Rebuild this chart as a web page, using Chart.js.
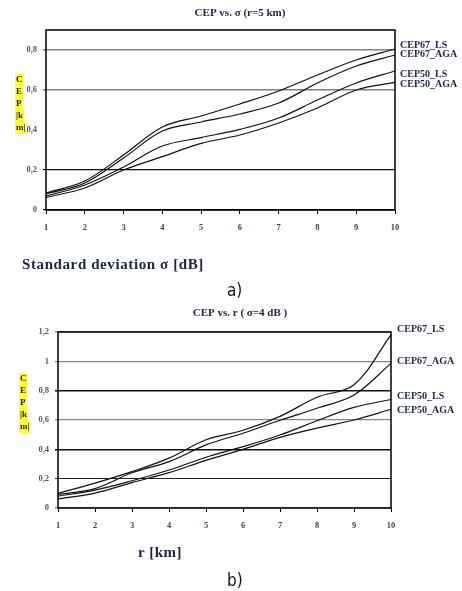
<!DOCTYPE html>
<html><head><meta charset="utf-8">
<script src="https://cdn.jsdelivr.net/npm/chart.js@4/dist/chart.umd.min.js"></script>
<style>
html,body{margin:0;padding:0;background:#fff;width:462px;height:591px;overflow:hidden;position:relative}
canvas{position:absolute;left:0}
.lbl{position:absolute;font-family:"Liberation Serif","DejaVu Serif",serif;font-weight:bold;color:#1b2642;white-space:nowrap;line-height:1}
.sub{position:absolute;font-family:"DejaVu Sans Condensed","Liberation Sans Narrow",sans-serif;font-size:17px;color:#111;line-height:1}
</style></head><body>
<canvas id="ca" width="462" height="300" style="top:0"></canvas>
<canvas id="cb" width="462" height="291" style="top:300px"></canvas>
<div class="lbl" style="left:22px;top:257px;font-size:15px;letter-spacing:0.6px">Standard deviation σ [dB]</div>
<div class="sub" style="left:227px;top:282px">a)</div>
<div class="lbl" style="left:138px;top:545px;font-size:15px;letter-spacing:0.5px">r [km]</div>
<div class="sub" style="left:227px;top:572px">b)</div>
<script>
// ---------- data ----------
const xLabels = ['1','2','3','4','5','6','7','8','9','10'];
const seriesNames = ['CEP67_LS','CEP67_AGA','CEP50_LS','CEP50_AGA'];
const yLetters = ['C','E','P','|k','m|'];

// a) CEP vs. sigma (r = 5 km)
const titleA = 'CEP vs. σ (r=5 km)';
const sigmaCep67LS  = [0.085,0.145,0.275,0.415,0.47,0.53,0.595,0.675,0.75,0.805];
const sigmaCep67AGA = [0.08,0.135,0.26,0.395,0.44,0.48,0.535,0.635,0.72,0.775];
const sigmaCep50LS  = [0.07,0.125,0.215,0.32,0.362,0.403,0.46,0.55,0.635,0.695];
const sigmaCep50AGA = [0.063,0.11,0.2,0.267,0.333,0.375,0.435,0.51,0.6,0.638];
const yTicksA = [0,0.2,0.4,0.6,0.8];

// b) CEP vs. r (sigma = 4 dB)
const titleB = 'CEP vs. r ( σ=4 dB )';
const rCep67LS  = [0.10,0.17,0.248,0.34,0.465,0.53,0.625,0.755,0.84,1.18];
const rCep67AGA = [0.092,0.132,0.24,0.316,0.43,0.51,0.598,0.68,0.77,0.986];
const rCep50LS  = [0.08,0.122,0.186,0.259,0.346,0.418,0.498,0.595,0.686,0.74];
const rCep50AGA = [0.062,0.102,0.173,0.241,0.325,0.40,0.482,0.545,0.60,0.673];
const yTicksB = [0,0.2,0.4,0.6,0.8,1,1.2];

// ---------- helpers ----------
const SERIF = '"Liberation Serif","DejaVu Serif",serif';
const fmt = v => String(Math.round(v*10)/10).replace('.', ',');

function makeSets(arrs){
  return arrs.map((d,i)=>({label:seriesNames[i],data:d,borderColor:'#111',borderWidth:1.2,
    pointRadius:0,tension:0.35,fill:false}));
}

const decor = {
  id:'decor',
  afterDraw(chart, args, o){
    const c = chart.ctx, a = chart.chartArea;
    c.save();
    // plot frame
    c.strokeStyle='#000'; c.lineWidth=1.5;
    c.strokeRect(a.left, a.top, a.right-a.left, a.bottom-a.top);
    // title
    c.fillStyle='#1b2642'; c.font='bold 11px '+SERIF; c.textAlign='center'; c.textBaseline='middle';
    c.fillText(o.title, o.titleX, o.titleY);
    // series labels at line ends
    c.textAlign='left'; c.font='bold 10px '+SERIF;
    chart.data.datasets.forEach((ds,i)=>{
      const meta = chart.getDatasetMeta(i);
      const p = meta.data[meta.data.length-1];
      c.fillText(ds.label, a.right+o.labelDx, p.y+o.labelDy[i]);
    });
    // vertical y-axis label with yellow highlight
    c.font='bold 9px '+SERIF; c.textBaseline='middle';
    yLetters.forEach((t,i)=>{
      const y = o.yLabY + i*o.yLabStep;
      const w = c.measureText(t).width;
      c.fillStyle='#ffff30';
      c.fillRect(o.yLabX-1, y-6, w+2, 12);
      c.fillStyle='#222';
      c.fillText(t, o.yLabX, y);
    });
    c.restore();
  }
};

function makeChart(id, sets, ticks, yMax, leftW, bottomH, padTop, padRight, gridStyle, decorOpts, tickPad){
  return new Chart(document.getElementById(id), {
    type:'line',
    data:{labels:xLabels, datasets:makeSets(sets)},
    options:{
      responsive:false, animation:false,
      layout:{padding:{top:padTop,right:padRight,left:0,bottom:0}},
      plugins:{legend:{display:false},tooltip:{enabled:false},decor:decorOpts},
      scales:{
        x:{offset:false,
          grid:{drawOnChartArea:false,drawTicks:true,tickLength:4,color:'#000',lineWidth:1},
          border:{display:false},
          ticks:{font:{family:SERIF,size:8.5,weight:'bold'},color:'#2d4a5a',padding:9,maxRotation:0,autoSkip:false},
          afterFit(s){s.height=bottomH;}
        },
        y:{min:0,max:yMax,
          afterBuildTicks(s){s.ticks=ticks.map(v=>({value:v}));},
          grid:{drawTicks:true,tickLength:3,
            color:ctx=>gridStyle(ctx.tick?ctx.tick.value:0).c,
            lineWidth:ctx=>gridStyle(ctx.tick?ctx.tick.value:0).w},
          border:{display:false},
          ticks:{font:{family:SERIF,size:8.5,weight:'bold'},color:'#3a6272',padding:tickPad,callback:v=>fmt(v)},
          afterFit(s){s.width=leftW;}
        }
      }
    },
    plugins:[decor]
  });
}

makeChart('ca',[sigmaCep67LS,sigmaCep67AGA,sigmaCep50LS,sigmaCep50AGA], yTicksA, 0.9, 46, 90, 30, 67,
  v=>{ v=Math.round(v*10)/10;
    if(v===0.8||v===0.6) return {c:'#808080',w:1.5};
    if(v===0.4) return {c:'rgba(0,0,0,0)',w:1};
    return {c:'#111',w:1.2}; },
  {title:titleA,titleX:240,titleY:13,labelDx:5,labelDy:[-4,-1,3,2],yLabX:16,yLabY:80,yLabStep:12},6);

makeChart('cb',[rCep67LS,rCep67AGA,rCep50LS,rCep50AGA], yTicksB, 1.2, 58, 83, 32, 71,
  v=>{ v=Math.round(v*10)/10;
    if(v===0.8||v===0.4) return {c:'#111',w:1.6};
    if(v===0.2) return {c:'#222',w:1.1};
    return {c:'#888',w:1.3}; },
  {title:titleB,titleX:240,titleY:13,labelDx:6,labelDy:[-6,-2,-3,1],yLabX:20,yLabY:79,yLabStep:12},6);
</script>
</body></html>
